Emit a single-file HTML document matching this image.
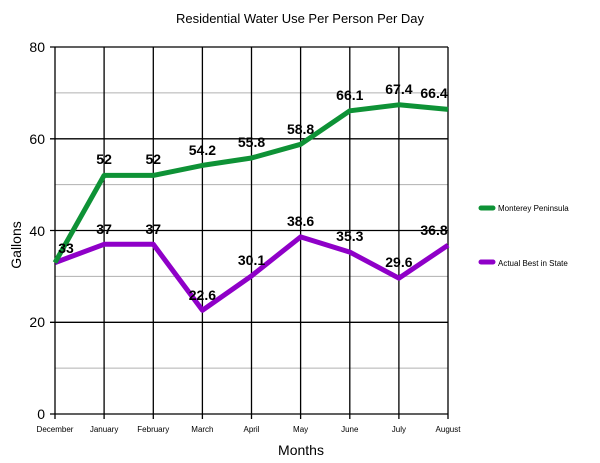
<!DOCTYPE html>
<html><head><style>body{margin:0;background:#fff}svg{display:block}</style></head><body>
<svg width="600" height="463" xmlns="http://www.w3.org/2000/svg" font-family="Liberation Sans, sans-serif">
<rect width="600" height="463" fill="#fff"/>
<text x="300" y="23" font-size="13" text-anchor="middle">Residential Water Use Per Person Per Day</text>
<g stroke="#b0b0b0" stroke-width="1">
<line x1="55" x2="448" y1="368.1" y2="368.1"/><line x1="55" x2="448" y1="276.4" y2="276.4"/>
<line x1="55" x2="448" y1="184.6" y2="184.6"/><line x1="55" x2="448" y1="92.9" y2="92.9"/>
</g>
<g stroke="#000" stroke-width="1.3">
<line x1="50" x2="448" y1="47" y2="47"/><line x1="50" x2="448" y1="138.8" y2="138.8"/>
<line x1="50" x2="448" y1="230.5" y2="230.5"/><line x1="50" x2="448" y1="322.3" y2="322.3"/>
<line x1="50" x2="448" y1="414" y2="414"/>
<line x1="55" x2="55" y1="47" y2="419"/><line x1="104.1" x2="104.1" y1="47" y2="419"/>
<line x1="153.3" x2="153.3" y1="47" y2="419"/><line x1="202.4" x2="202.4" y1="47" y2="419"/>
<line x1="251.5" x2="251.5" y1="47" y2="419"/><line x1="300.6" x2="300.6" y1="47" y2="419"/>
<line x1="349.8" x2="349.8" y1="47" y2="419"/><line x1="398.9" x2="398.9" y1="47" y2="419"/>
<line x1="448" x2="448" y1="47" y2="419"/>
</g>
<g font-size="14" text-anchor="end">
<text x="45" y="52">80</text><text x="45" y="144">60</text><text x="45" y="236">40</text><text x="45" y="327">20</text><text x="45" y="419">0</text>
</g>
<text transform="translate(21,245) rotate(-90)" font-size="14" text-anchor="middle">Gallons</text>
<g font-size="8" text-anchor="middle">
<text x="55" y="432">December</text><text x="104.1" y="432">January</text><text x="153.3" y="432">February</text>
<text x="202.4" y="432">March</text><text x="251.5" y="432">April</text><text x="300.6" y="432">May</text>
<text x="349.8" y="432">June</text><text x="398.9" y="432">July</text><text x="448" y="432">August</text>
</g>
<text x="301" y="455" font-size="14" text-anchor="middle">Months</text>
<polyline fill="none" stroke="#8f00c8" stroke-width="5" stroke-linejoin="round" points="55,262.6 104.1,244.3 153.3,244.3 202.4,310.3 251.5,275.9 300.6,236.9 349.8,252.1 398.9,278.2 448,245.2"/>
<polyline fill="none" stroke="#0e9236" stroke-width="5" stroke-linejoin="round" points="55,262.6 104.1,175.4 153.3,175.4 202.4,165.4 251.5,158 300.6,144.3 349.8,110.8 398.9,104.8 448,109.4"/>
<g font-size="14" font-weight="bold" text-anchor="middle">
<text x="66" y="253">33</text>
<text x="104.1" y="164">52</text><text x="153.3" y="164">52</text><text x="202.4" y="155">54.2</text>
<text x="251.5" y="147">55.8</text><text x="300.6" y="134">58.8</text><text x="349.8" y="100">66.1</text>
<text x="398.9" y="94">67.4</text><text x="434" y="98">66.4</text>
<text x="104.1" y="234">37</text><text x="153.3" y="234">37</text><text x="202.4" y="300">22.6</text>
<text x="251.5" y="265">30.1</text><text x="300.6" y="226">38.6</text><text x="349.8" y="241">35.3</text>
<text x="398.9" y="267">29.6</text><text x="434" y="235">36.8</text>
</g>
<line x1="481" x2="493" y1="208" y2="208" stroke="#0e9236" stroke-width="5" stroke-linecap="round"/>
<text x="498" y="211" font-size="8">Monterey Peninsula</text>
<line x1="481" x2="493" y1="262" y2="262" stroke="#8f00c8" stroke-width="5" stroke-linecap="round"/>
<text x="498" y="266" font-size="8">Actual Best in State</text>
</svg>
</body></html>
